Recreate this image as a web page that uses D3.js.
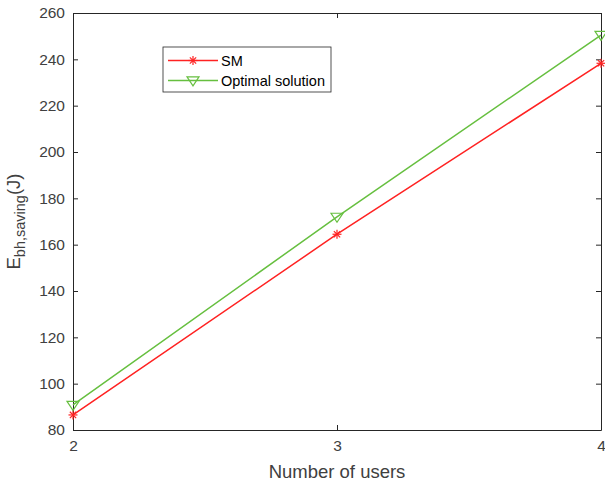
<!DOCTYPE html>
<html>
<head>
<meta charset="utf-8">
<script src="https://cdn.jsdelivr.net/npm/d3@7"></script>
<style>
body { margin: 0; background: white; }
svg { display: block; font-family: Arial, "Liberation Sans", Helvetica, sans-serif; }
</style>
</head>
<body>
<div id="chart"></div>
<script>
const users = [2, 3, 4]
const smValues = [86.5, 164.5, 238.3]
const optimalValues = [90.8, 172, 250.5]
const xTicks = [2, 3, 4]
const yTicks = [80, 100, 120, 140, 160, 180, 200, 220, 240, 260]

const width = 605, height = 484
const margin = {left: 73, right: 4, top: 13, bottom: 54}
const axisColor = "#262626"
const labelColor = "#404040"
const red = "#ff2222"
const green = "#66bf3f"

const svg = d3.select("#chart").append("svg")
    .attr("width", width)
    .attr("height", height)

const x = d3.scaleLinear().domain([2, 4]).range([margin.left, width - margin.right])
const y = d3.scaleLinear().domain([80, 260]).range([height - margin.bottom, margin.top])

// axes (box with ticks on all sides, MATLAB style)
const styleAxis = (g) => {
    g.select(".domain").attr("stroke", axisColor)
    g.selectAll(".tick line").attr("stroke", axisColor)
    g.selectAll(".tick text").attr("fill", labelColor).attr("font-size", 15.5)
}

svg.append("g")
    .attr("transform", `translate(0,${y(80)})`)
    .call(d3.axisBottom(x).tickValues(xTicks).tickFormat(d3.format("d")).tickSizeInner(-5).tickSizeOuter(0).tickPadding(10))
    .call(styleAxis)

svg.append("g")
    .attr("transform", `translate(${x(2)},0)`)
    .call(d3.axisLeft(y).tickValues(yTicks).tickSizeInner(-5).tickSizeOuter(0).tickPadding(8))
    .call(styleAxis)

svg.append("g")
    .attr("transform", `translate(0,${y(260)})`)
    .call(d3.axisTop(x).tickValues(xTicks).tickFormat("").tickSizeInner(-5).tickSizeOuter(0))
    .call(styleAxis)

svg.append("g")
    .attr("transform", `translate(${x(4)},0)`)
    .call(d3.axisRight(y).tickValues(yTicks).tickFormat("").tickSizeInner(-5).tickSizeOuter(0))
    .call(styleAxis)

svg.selectAll(".domain").attr("stroke-width", 1)

// axis labels
svg.append("text")
    .attr("x", (x(2) + x(4)) / 2)
    .attr("y", 478)
    .attr("text-anchor", "middle")
    .attr("font-size", 18.5)
    .attr("fill", labelColor)
    .text("Number of users")

const ylab = svg.append("text")
    .attr("transform", `translate(20,${(y(80) + y(260)) / 2}) rotate(-90)`)
    .attr("text-anchor", "middle")
    .attr("font-size", 18.5)
    .attr("fill", labelColor)
ylab.append("tspan").text("E")
ylab.append("tspan").attr("font-size", 14.5).attr("dy", 5).text("bh,saving")
ylab.append("tspan").attr("dy", -5).text("(J)")

// lines
const line = d3.line().x((d, i) => x(users[i])).y(d => y(d))

function starMarker(g, cx, cy, color) {
    const r = 4.5
    const m = g.append("g").attr("transform", `translate(${cx},${cy})`)
        .attr("stroke", color).attr("stroke-width", 1.2)
    m.append("line").attr("x1", -r).attr("x2", r).attr("y1", 0).attr("y2", 0)
    m.append("line").attr("x1", 0).attr("x2", 0).attr("y1", -r).attr("y2", r)
    m.append("line").attr("x1", -r * 0.7).attr("x2", r * 0.7).attr("y1", -r * 0.7).attr("y2", r * 0.7)
    m.append("line").attr("x1", -r * 0.7).attr("x2", r * 0.7).attr("y1", r * 0.7).attr("y2", -r * 0.7)
}

function triMarker(g, cx, cy, color) {
    const r = 6
    g.append("path")
        .attr("d", `M${cx - r},${cy - r * 0.6}L${cx + r},${cy - r * 0.6}L${cx},${cy + r * 0.9}Z`)
        .attr("fill", "none").attr("stroke", color).attr("stroke-width", 1.2)
}

svg.append("path").datum(smValues)
    .attr("d", line).attr("fill", "none").attr("stroke", red).attr("stroke-width", 1.5)
svg.append("path").datum(optimalValues)
    .attr("d", line).attr("fill", "none").attr("stroke", green).attr("stroke-width", 1.5)

const marks = svg.append("g")
smValues.forEach((d, i) => starMarker(marks, x(users[i]), y(d), red))
optimalValues.forEach((d, i) => triMarker(marks, x(users[i]), y(d), green))

// legend
const legend = svg.append("g").attr("transform", "translate(163,47)")
legend.append("rect")
    .attr("width", 168).attr("height", 45)
    .attr("fill", "white").attr("stroke", "#262626").attr("stroke-width", 0.8)

const legendItems = [
    {name: "SM", color: red, marker: starMarker},
    {name: "Optimal solution", color: green, marker: triMarker}
]
legendItems.forEach((item, i) => {
    const ly = 13.5 + i * 20
    legend.append("line")
        .attr("x1", 5).attr("x2", 55).attr("y1", ly).attr("y2", ly)
        .attr("stroke", item.color).attr("stroke-width", 1.5)
    item.marker(legend, 30, ly, item.color)
    legend.append("text")
        .attr("x", 58).attr("y", ly + 5)
        .attr("font-size", 14.5)
        .attr("fill", "#000")
        .text(item.name)
})
</script>
</body>
</html>
